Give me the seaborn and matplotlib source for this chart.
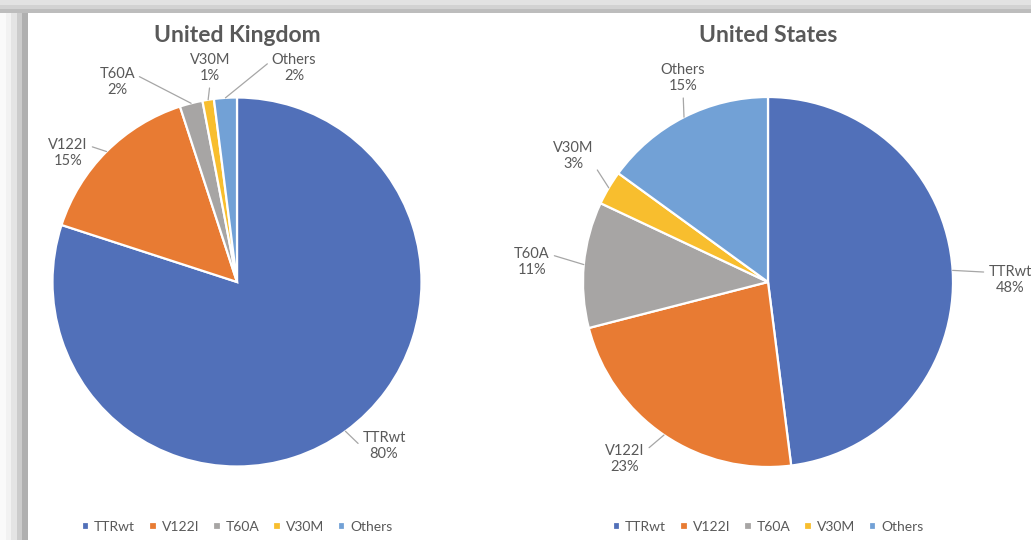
import matplotlib
matplotlib.use("Agg")
import matplotlib.pyplot as plt
from matplotlib.patches import Rectangle
import numpy as np
import seaborn as sns

# ---- data ----
categories = ["TTRwt", "V122I", "T60A", "V30M", "Others"]
uk_values = [80, 15, 2, 1, 2]
us_values = [48, 23, 11, 3, 15]
titles = ["United Kingdom", "United States"]

# ---- style ----
sns.set_theme(style="white")
plt.rcParams["font.family"] = ["Lato", "DejaVu Sans"]
palette = sns.color_palette(["#5170B9", "#E87B33", "#A7A5A4", "#F8BE2E", "#72A1D6"])
TEXT = "#595959"
LEADER = "#A6A6A6"

W, H = 1031, 540
fig = plt.figure(figsize=(W / 100, H / 100), dpi=100)
fig.patch.set_facecolor("white")

# label centres (radius units) and where the leader leaves the text box
uk_label_pos = [(0.797, -0.889), (-0.916, 0.699), (-0.650, 1.084), (-0.146, 1.160), (0.309, 1.160)]
uk_relpos = [(0.0, 0.45), (1.0, 0.75), (1.0, 0.75), (0.5, 0.0), (0.0, 0.75)]
us_label_pos = [(1.308, 0.011), (-0.773, -0.957), (-1.276, 0.108), (-1.054, 0.681), (-0.459, 1.103)]
us_relpos = [(0.0, 0.75), (1.0, 0.75), (1.0, 0.75), (1.0, 0.25), (0.5, 0.0)]

panels = [
    dict(values=uk_values, title=titles[0], x0=28, x1=515, cx=237, cy=282, R=184.5,
         lab=uk_label_pos, rel=uk_relpos),
    dict(values=us_values, title=titles[1], x0=515, x1=1031, cx=768, cy=282, R=185,
         lab=us_label_pos, rel=us_relpos),
]

for p in panels:
    x0, x1, cx, cy, R = p["x0"], p["x1"], p["cx"], p["cy"], p["R"]
    ax = fig.add_axes([x0 / W, 0, (x1 - x0) / W, 1])
    wedges, _ = ax.pie(p["values"], colors=palette, startangle=90, counterclock=False,
                       radius=1, center=(0, 0),
                       wedgeprops=dict(edgecolor="white", linewidth=1.6))
    ax.set_aspect("auto")
    ax.set_xlim((x0 - cx) / R, (x1 - cx) / R)
    ax.set_ylim((cy - H) / R, cy / R)
    ax.axis("off")

    ax.text(0, (cy - 36) / R, p["title"], ha="center", va="center",
            fontsize=16.5, fontweight="bold", color=TEXT)

    total = sum(p["values"])
    cum = 0
    for val, name, (lx, ly), rel in zip(p["values"], categories, p["lab"], p["rel"]):
        mid = 90 - 360 * (cum + val / 2) / total
        cum += val
        ex, ey = np.cos(np.radians(mid)), np.sin(np.radians(mid))
        ax.annotate(f"{name}\n{val}%", xy=(ex, ey), xytext=(lx, ly),
                    ha="center", va="center", fontsize=10.5, color=TEXT,
                    linespacing=1.25,
                    arrowprops=dict(arrowstyle="-", color=LEADER, lw=0.9,
                                    shrinkA=1, shrinkB=0, relpos=rel))

    ax.legend(wedges, categories, loc="center", ncol=5, frameon=False,
              bbox_to_anchor=(cx / W, 1 - 527 / H),
              bbox_transform=fig.transFigure,
              handlelength=0.55, handleheight=0.55, handletextpad=0.35,
              columnspacing=1.0, fontsize=10, labelcolor=TEXT)

# soft grey frame along the top and left edges
left_greys = ["#fafafa", "#f2f2f2", "#e4e4e4", "#cccccc", "#b0b0b0"]
for i, g in enumerate(left_greys):
    fig.add_artist(Rectangle((i * 5.6 / W, 0), 5.6 / W, 1 - 13 / H,
                             transform=fig.transFigure, color=g, lw=0, zorder=0))
top_greys = [("#e2e2e2", 0, 5), ("#d2d2d2", 5, 9), ("#bdbdbd", 9, 13)]
for g, y0, y1 in top_greys:
    fig.add_artist(Rectangle((0, 1 - y1 / H), 1, (y1 - y0) / H,
                             transform=fig.transFigure, color=g, lw=0, zorder=0))

fig.savefig("out.png", dpi=100, facecolor="white")
